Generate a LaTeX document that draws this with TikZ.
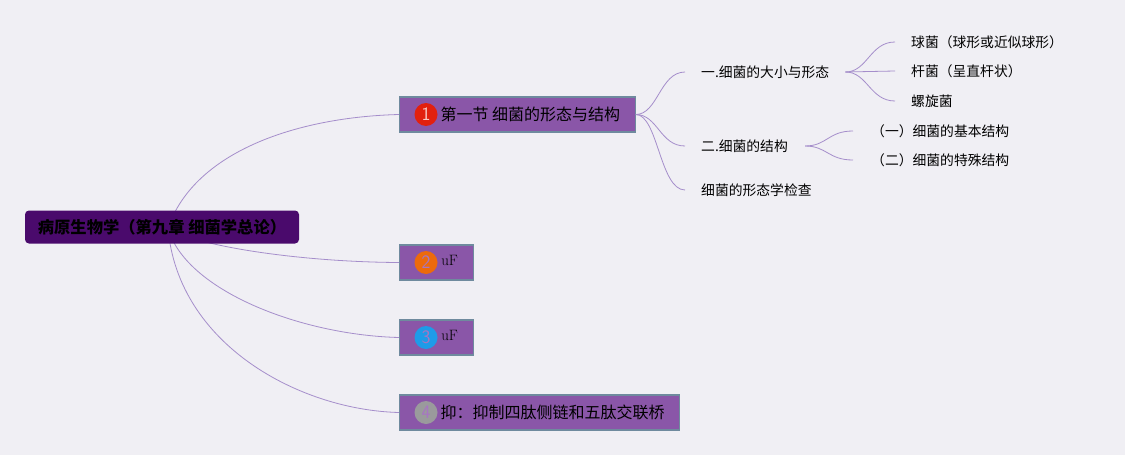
\documentclass[tikz,border=0pt]{standalone}
\usepackage{fontspec}
\newfontfamily\cjk{Noto Sans CJK SC}
\definecolor{bg}{HTML}{F0EFF4}
\definecolor{rootfill}{HTML}{4A0A6C}
\definecolor{topicfill}{HTML}{8A56A8}
\definecolor{topicline}{HTML}{6F8A9E}
\definecolor{branchline}{HTML}{A58ECB}
\definecolor{badgetext}{HTML}{A775C2}
\definecolor{badgeone}{HTML}{E2200F}
\definecolor{badgetwo}{HTML}{EC6A0C}
\definecolor{badgethree}{HTML}{1E9BE8}
\definecolor{badgefour}{HTML}{9A9A9C}

\begin{document}
\begin{tikzpicture}[x=1pt, y=-1pt,
  topic/.style={draw=topicline, line width=1.2pt, fill=topicfill, minimum height=35pt,
    inner xsep=15pt, anchor=west, font=\cjk\fontsize{16}{18}\selectfont},
  badge/.style={circle, inner sep=0pt, minimum size=23pt, text=badgetext,
    font=\sffamily\fontsize{19}{20}\selectfont},
  sub/.style={anchor=west, inner sep=0pt, font=\cjk\fontsize{13.8}{16}\selectfont},
  branch/.style={draw=branchline, line width=0.8pt}]
%\draw [help lines] (0,0) grid (1125,455);
\path [use as bounding box, fill=bg] (0,0) rectangle (1125,455);
\node [topic] (sec1) at (399,114.5) {\hspace*{26pt}第一节 细菌的形态与结构};
\node [topic, minimum width=74pt, font=\rmfamily\fontsize{15}{18}\selectfont] (sec2) at (399,262.5) {\hspace*{26pt}\raisebox{4pt}{uF}};
\node [topic, minimum width=74pt, font=\rmfamily\fontsize{15}{18}\selectfont] (sec3) at (399,337.5) {\hspace*{26pt}\raisebox{4pt}{uF}};
\node [topic] (sec4) at (399,412.5) {\hspace*{26pt}抑：抑制四肽侧链和五肽交联桥};
\node [badge, fill=badgeone, text=white!75!badgeone] (b1) at ([xshift=27pt]sec1.west) {1};
\node [badge, fill=badgetwo] (b2) at ([xshift=27pt]sec2.west) {2};
\node [badge, fill=badgethree] (b3) at ([xshift=27pt]sec3.west) {3};
\node [badge, fill=badgefour] (b4) at ([xshift=27pt]sec4.west) {4};
% second level
\node [sub] (size) at (701,72) {一.细菌的大小与形态};
\node [sub] (struct) at (701,146) {二.细菌的结构};
\node [sub] (exam) at (701,190) {细菌的形态学检查};
\node [sub] (coccus) at (911,42) {球菌（球形或近似球形）};
\node [sub] (bacil) at (911,71) {杆菌（呈直杆状）};
\node [sub] (spiral) at (911,101) {螺旋菌};
\node [sub] (basic) at (871,131) {（一）细菌的基本结构};
\node [sub] (special) at (871,160) {（二）细菌的特殊结构};
% branch ends
\coordinate (hub) at (168,228);
\coordinate (sizeL) at ([xshift=-16pt]size.west);
\coordinate (structL) at ([xshift=-16pt]struct.west);
\coordinate (examL) at ([xshift=-16pt]exam.west);
\coordinate (sizeR) at ([xshift=16pt]size.east);
\coordinate (structR) at ([xshift=17pt]struct.east);
\coordinate (coccusL) at ([xshift=-16pt]coccus.west);
\coordinate (bacilL) at ([xshift=-16pt]bacil.west);
\coordinate (spiralL) at ([xshift=-16pt]spiral.west);
\coordinate (basicL) at ([xshift=-18pt]basic.west);
\coordinate (specialL) at ([xshift=-18pt]special.west);
\draw [branch] (hub) .. controls (195,150) and (300,117) .. (sec1.west);
\draw [branch] (hub) .. controls (195,246) and (300,262) .. (sec2.west);
\draw [branch] (hub) .. controls (185,290) and (300,335) .. (sec3.west);
\draw [branch] (hub) .. controls (178,345) and (300,410) .. (sec4.west);
\draw [branch] (sec1.east) .. controls +(22,0) and +(-25,0) .. (sizeL);
\draw [branch] (sec1.east) .. controls +(22,0) and +(-25,0) .. (structL);
\draw [branch] (sec1.east) .. controls +(22,0) and +(-25,0) .. (examL);
\draw [branch] (sizeR) .. controls +(22,0) and +(-25,0) .. (coccusL);
\draw [branch] (sizeR) -- (bacilL);
\draw [branch] (sizeR) .. controls +(22,0) and +(-25,0) .. (spiralL);
\draw [branch] (structR) .. controls +(22,0) and +(-25,0) .. (basicL);
\draw [branch] (structR) .. controls +(22,0) and +(-25,0) .. (specialL);
% root on top of the branches
\node [fill=rootfill, rounded corners=4pt, minimum width=274pt, minimum height=33pt,
  font=\cjk\bfseries\fontsize{16.3}{18}\selectfont] (root) at (162,227) {病原生物学（第九章 细菌学总论）};
\end{tikzpicture}
\end{document}
